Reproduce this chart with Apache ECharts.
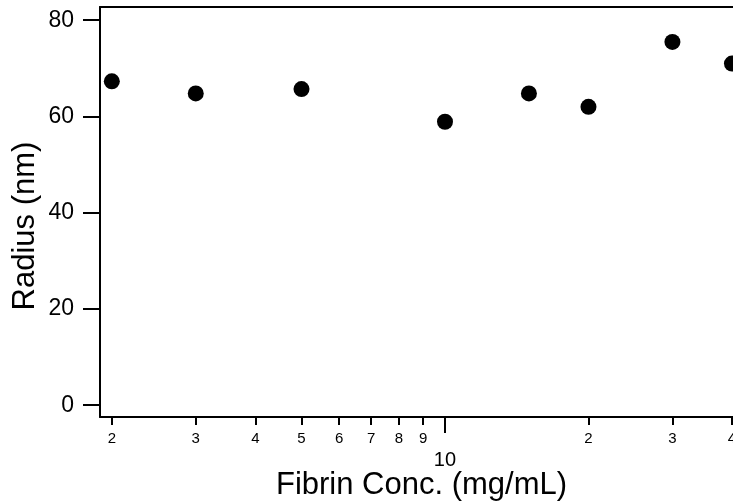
<!DOCTYPE html>
<html>
<head>
<meta charset="utf-8">
<script src="https://cdn.jsdelivr.net/npm/echarts@6/dist/echarts.min.js"></script>
<style>
html,body{margin:0;padding:0;background:#fff;}
#chart{width:733px;height:504px;}
</style>
</head>
<body>
<div id="chart"></div>
<script>
// Data
const concentrations = [2, 3, 5, 10, 15, 20, 30, 40];          // mg/mL
const radii = [67.3, 64.8, 65.7, 58.9, 64.8, 62.0, 75.5, 71.0]; // nm

// Tick labels
const minorTickValues = [2, 3, 4, 5, 6, 7, 8, 9, 20, 30, 40];
const minorTickLabels = ['2', '3', '4', '5', '6', '7', '8', '9', '2', '3', '4'];
const majorTickValues = [10];
const majorTickLabels = ['10'];
const yTickValues = [0, 20, 40, 60, 80];
const yTickLabels = ['0', '20', '40', '60', '80'];

const xMin = 1.889, xMax = 40.2;
const yMin = -2.45, yMax = 82.75;
const FONT = "'Liberation Sans', Arial, sans-serif";

const chart = echarts.init(document.getElementById('chart'), null, {renderer: 'canvas'});

function lookup(values, labels) {
  return function (v) {
    for (let i = 0; i < values.length; i++) {
      if (Math.abs(values[i] - v) < 1e-6 * Math.max(1, Math.abs(v))) return labels[i];
    }
    return '';
  };
}

const option = {
  animation: false,
  backgroundColor: '#fff',
  grid: {left: 100, right: 0, top: 7, bottom: 87, containLabel: false, outerBoundsMode: 'none'},
  xAxis: [
    {
      type: 'log', logBase: 10, min: xMin, max: xMax, position: 'bottom',
      axisLine: {show: true, onZero: false, lineStyle: {color: '#000', width: 2}},
      axisTick: {show: true, length: 8, lineStyle: {color: '#000', width: 2}, customValues: minorTickValues},
      axisLabel: {show: true, color: '#000', fontSize: 15, fontFamily: FONT, margin: 14,
        customValues: minorTickValues, formatter: lookup(minorTickValues, minorTickLabels)},
      splitLine: {show: false}, minorTick: {show: false}
    },
    {
      type: 'log', logBase: 10, min: xMin, max: xMax, position: 'bottom',
      name: 'Fibrin Conc. (mg/mL)', nameLocation: 'middle', nameGap: 53, nameMoveOverlap: false,
      nameTextStyle: {color: '#000', fontSize: 31, fontFamily: FONT, padding: [0, 0, 0, 10]},
      axisLine: {show: false, onZero: false},
      axisTick: {show: true, length: 16, lineStyle: {color: '#000', width: 2}, customValues: majorTickValues},
      axisLabel: {show: true, color: '#000', fontSize: 20, fontFamily: FONT, margin: 33,
        customValues: majorTickValues, formatter: lookup(majorTickValues, majorTickLabels)},
      splitLine: {show: false}, minorTick: {show: false}
    },
    {
      type: 'log', logBase: 10, min: xMin, max: xMax, position: 'top',
      axisLine: {show: true, onZero: false, lineStyle: {color: '#000', width: 2}},
      axisTick: {show: false}, axisLabel: {show: false}, splitLine: {show: false}
    }
  ],
  yAxis: {
    type: 'value', min: yMin, max: yMax,
    name: 'Radius (nm)', nameLocation: 'middle', nameGap: 59, nameMoveOverlap: false,
    nameTextStyle: {color: '#000', fontSize: 31, fontFamily: FONT, padding: [0, 28, 0, 0]},
    axisLine: {show: true, onZero: false, lineStyle: {color: '#000', width: 2}},
    axisTick: {show: true, length: 17, lineStyle: {color: '#000', width: 2}, customValues: yTickValues},
    axisLabel: {show: true, color: '#000', fontSize: 23, fontFamily: FONT, margin: 26,
      customValues: yTickValues, formatter: lookup(yTickValues, yTickLabels)},
    splitLine: {show: false}
  },
  series: [{
    type: 'scatter', xAxisIndex: 0, yAxisIndex: 0,
    data: concentrations.map((c, i) => [c, radii[i]]),
    symbol: 'circle', symbolSize: 16,
    itemStyle: {color: '#000', opacity: 1},
    clip: false
  }]
};
chart.setOption(option);
</script>
</body>
</html>
